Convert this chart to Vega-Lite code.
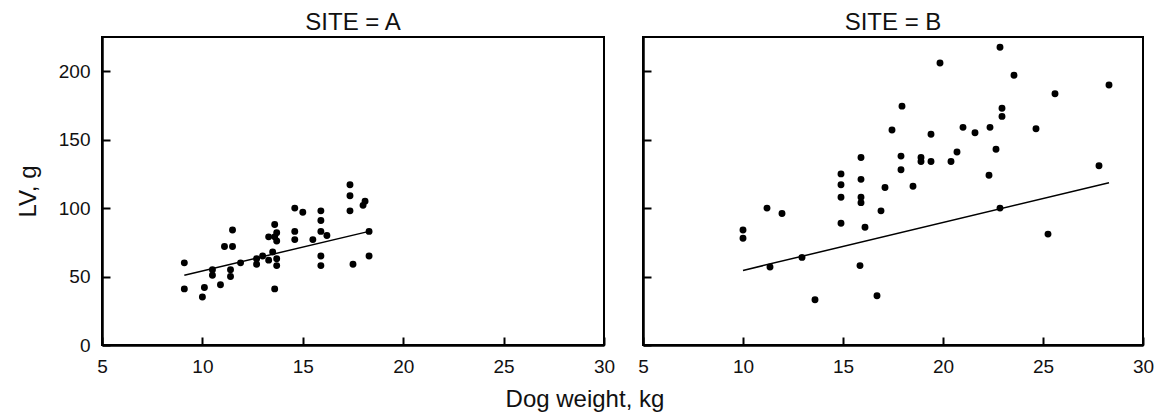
{
  "$schema": "https://vega.github.io/schema/vega-lite/v6.json",
  "padding": {"left": 15, "top": 10, "right": 10, "bottom": 5},
  "background": "white",
  "datasets": {
    "pts": [
      {"site": "A", "weight": 9.1, "lv": 60}, {"site": "A", "weight": 9.1, "lv": 41},
      {"site": "A", "weight": 10.1, "lv": 42}, {"site": "A", "weight": 10.0, "lv": 35},
      {"site": "A", "weight": 10.5, "lv": 55}, {"site": "A", "weight": 10.5, "lv": 51},
      {"site": "A", "weight": 10.9, "lv": 44}, {"site": "A", "weight": 11.5, "lv": 84},
      {"site": "A", "weight": 11.1, "lv": 72}, {"site": "A", "weight": 11.5, "lv": 72},
      {"site": "A", "weight": 11.4, "lv": 55}, {"site": "A", "weight": 11.4, "lv": 50},
      {"site": "A", "weight": 11.9, "lv": 60}, {"site": "A", "weight": 12.7, "lv": 63},
      {"site": "A", "weight": 12.7, "lv": 59}, {"site": "A", "weight": 13.3, "lv": 62},
      {"site": "A", "weight": 13.3, "lv": 79}, {"site": "A", "weight": 13.6, "lv": 79},
      {"site": "A", "weight": 13.6, "lv": 88}, {"site": "A", "weight": 13.5, "lv": 68},
      {"site": "A", "weight": 13.6, "lv": 41}, {"site": "A", "weight": 13.7, "lv": 82},
      {"site": "A", "weight": 13.7, "lv": 76}, {"site": "A", "weight": 13.7, "lv": 63},
      {"site": "A", "weight": 13.7, "lv": 58}, {"site": "A", "weight": 14.6, "lv": 100},
      {"site": "A", "weight": 15.0, "lv": 97}, {"site": "A", "weight": 14.6, "lv": 83},
      {"site": "A", "weight": 14.6, "lv": 77}, {"site": "A", "weight": 15.9, "lv": 98},
      {"site": "A", "weight": 15.9, "lv": 91}, {"site": "A", "weight": 15.9, "lv": 83},
      {"site": "A", "weight": 15.5, "lv": 77}, {"site": "A", "weight": 16.2, "lv": 80},
      {"site": "A", "weight": 15.9, "lv": 65}, {"site": "A", "weight": 15.9, "lv": 58},
      {"site": "A", "weight": 17.35, "lv": 117}, {"site": "A", "weight": 17.35, "lv": 109},
      {"site": "A", "weight": 17.35, "lv": 98}, {"site": "A", "weight": 18.1, "lv": 105},
      {"site": "A", "weight": 18.0, "lv": 102}, {"site": "A", "weight": 18.3, "lv": 83},
      {"site": "A", "weight": 18.3, "lv": 65}, {"site": "A", "weight": 17.5, "lv": 59},
      {"site": "A", "weight": 13.0, "lv": 65},
      {"site": "B", "weight": 22.85, "lv": 217.5}, {"site": "B", "weight": 19.85, "lv": 206},
      {"site": "B", "weight": 23.55, "lv": 197}, {"site": "B", "weight": 28.3, "lv": 190},
      {"site": "B", "weight": 25.6, "lv": 183.5}, {"site": "B", "weight": 17.95, "lv": 174.5},
      {"site": "B", "weight": 22.95, "lv": 173}, {"site": "B", "weight": 22.95, "lv": 167},
      {"site": "B", "weight": 17.45, "lv": 157}, {"site": "B", "weight": 19.4, "lv": 154},
      {"site": "B", "weight": 21.0, "lv": 159}, {"site": "B", "weight": 21.6, "lv": 155},
      {"site": "B", "weight": 22.35, "lv": 159}, {"site": "B", "weight": 24.65, "lv": 158},
      {"site": "B", "weight": 20.7, "lv": 141}, {"site": "B", "weight": 22.65, "lv": 143},
      {"site": "B", "weight": 15.9, "lv": 137}, {"site": "B", "weight": 17.9, "lv": 138},
      {"site": "B", "weight": 17.9, "lv": 128}, {"site": "B", "weight": 18.9, "lv": 137},
      {"site": "B", "weight": 18.9, "lv": 134}, {"site": "B", "weight": 19.4, "lv": 134},
      {"site": "B", "weight": 20.4, "lv": 134}, {"site": "B", "weight": 22.3, "lv": 124},
      {"site": "B", "weight": 27.8, "lv": 131}, {"site": "B", "weight": 14.9, "lv": 125},
      {"site": "B", "weight": 14.9, "lv": 117}, {"site": "B", "weight": 15.9, "lv": 121},
      {"site": "B", "weight": 17.1, "lv": 115}, {"site": "B", "weight": 18.5, "lv": 116},
      {"site": "B", "weight": 15.9, "lv": 108}, {"site": "B", "weight": 15.9, "lv": 104},
      {"site": "B", "weight": 14.9, "lv": 108}, {"site": "B", "weight": 11.2, "lv": 100},
      {"site": "B", "weight": 11.95, "lv": 96}, {"site": "B", "weight": 10.0, "lv": 84},
      {"site": "B", "weight": 10.0, "lv": 78}, {"site": "B", "weight": 14.9, "lv": 89},
      {"site": "B", "weight": 16.1, "lv": 86}, {"site": "B", "weight": 16.9, "lv": 98},
      {"site": "B", "weight": 22.85, "lv": 100}, {"site": "B", "weight": 25.25, "lv": 81},
      {"site": "B", "weight": 12.95, "lv": 64}, {"site": "B", "weight": 11.35, "lv": 57},
      {"site": "B", "weight": 15.85, "lv": 58}, {"site": "B", "weight": 13.6, "lv": 33},
      {"site": "B", "weight": 16.7, "lv": 36}
    ],
    "fit": [
      {"site": "A", "weight": 9.1, "lv": 51}, {"site": "A", "weight": 18.3, "lv": 83},
      {"site": "B", "weight": 10.0, "lv": 54.5}, {"site": "B", "weight": 28.3, "lv": 118.5}
    ]
  },
  "title": {"text": "Dog weight, kg", "orient": "bottom", "anchor": "middle", "fontSize": 24, "fontWeight": "normal", "offset": 11},
  "spacing": 20,
  "hconcat": [
    {
      "width": 502, "height": 308,
      "title": {"text": "SITE = A"},
      "layer": [
        {
          "data": {"name": "pts"},
          "transform": [{"filter": "datum.site === 'A'"}],
          "mark": {"type": "circle", "size": 48, "color": "black", "opacity": 1},
          "encoding": {
            "x": {"field": "weight", "type": "quantitative", "scale": {"domain": [5, 30], "nice": false, "zero": false},
                  "axis": {"values": [5, 10, 15, 20, 25, 30], "title": null}},
            "y": {"field": "lv", "type": "quantitative", "scale": {"domain": [0, 225], "nice": false},
                  "axis": {"values": [0, 25, 50, 75, 100, 125, 150, 175, 200], "labelExpr": "datum.value % 50 === 0 ? datum.label : ''", "title": "LV, g", "titlePadding": 18}}
          }
        },
        {
          "data": {"name": "fit"},
          "transform": [{"filter": "datum.site === 'A'"}],
          "mark": {"type": "line", "color": "black", "strokeWidth": 1.5},
          "encoding": {
            "x": {"field": "weight", "type": "quantitative"},
            "y": {"field": "lv", "type": "quantitative"}
          }
        }
      ]
    },
    {
      "width": 500, "height": 308,
      "title": {"text": "SITE = B"},
      "layer": [
        {
          "data": {"name": "pts"},
          "transform": [{"filter": "datum.site === 'B'"}],
          "mark": {"type": "circle", "size": 48, "color": "black", "opacity": 1},
          "encoding": {
            "x": {"field": "weight", "type": "quantitative", "scale": {"domain": [5, 30], "nice": false, "zero": false},
                  "axis": {"values": [5, 10, 15, 20, 25, 30], "title": null}},
            "y": {"field": "lv", "type": "quantitative", "scale": {"domain": [0, 225], "nice": false},
                  "axis": {"values": [0, 25, 50, 75, 100, 125, 150, 175, 200], "labels": false, "title": null}}
          }
        },
        {
          "data": {"name": "fit"},
          "transform": [{"filter": "datum.site === 'B'"}],
          "mark": {"type": "line", "color": "black", "strokeWidth": 1.5},
          "encoding": {
            "x": {"field": "weight", "type": "quantitative"},
            "y": {"field": "lv", "type": "quantitative"}
          }
        }
      ]
    }
  ],
  "config": {
    "font": "Liberation Sans",
    "view": {"stroke": "black", "strokeWidth": 2},
    "axis": {"grid": false, "domainColor": "black", "domainWidth": 2.5, "tickColor": "black", "tickWidth": 2, "tickSize": -8,
             "labelFontSize": 19, "labelColor": "#111", "labelPadding": 20, "labelFlush": false,
             "titleFontSize": 24, "titleFontWeight": "normal", "titleColor": "#111"},
    "title": {"fontSize": 24, "fontWeight": "normal", "color": "#111", "offset": 2}
  }
}
